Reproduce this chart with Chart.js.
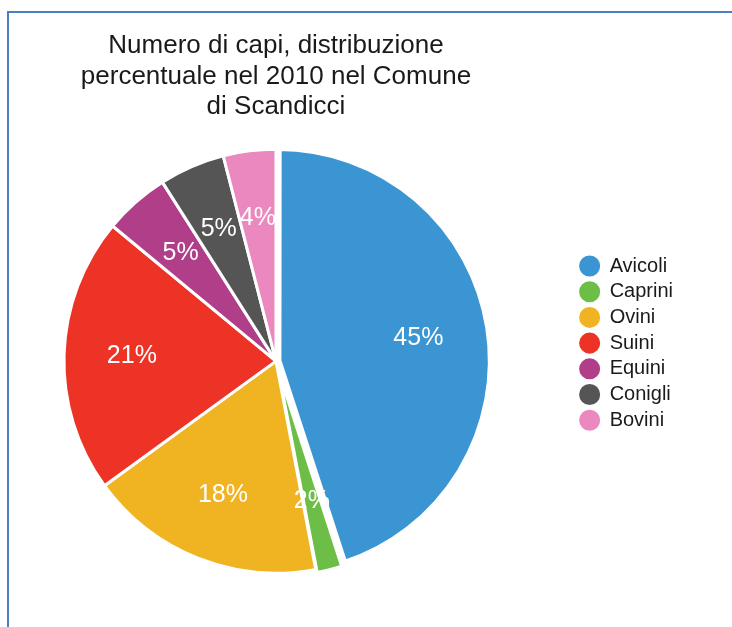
<!DOCTYPE html>
<html>
<head>
<meta charset="utf-8">
<script src="https://cdn.jsdelivr.net/npm/chart.js@4/dist/chart.umd.min.js"></script>
<style>
  html, body { margin: 0; padding: 0; background: #fff; overflow: hidden; }
  body { width: 732px; height: 627px; position: relative; }
  #frame {
    position: absolute; left: 7px; top: 11px; width: 800px; height: 700px;
    border-top: 2px solid #4a7fc4; border-left: 2px solid #4a7fc4;
    pointer-events: none;
  }
  #myChart { position: absolute; left: -22px; top: 0; }
</style>
</head>
<body>
<div id="frame"></div>
<canvas id="myChart" width="754" height="627"></canvas>
<script>
const categories = ['Avicoli', 'Caprini', 'Ovini', 'Suini', 'Equini', 'Conigli', 'Bovini'];
const shares = [45, 2, 18, 21, 5, 5, 4];
const sliceColors = ['#3b95d3', '#6cbe47', '#f0b423', '#ec3325', '#b13e88', '#555555', '#ea88bf'];

const fontFamily = '"Liberation Sans", Arial, Helvetica, sans-serif';

// percent labels inside the slices
const pctLabels = {
    id: 'pctLabels',
    afterDatasetsDraw(chart) {
        const ctx = chart.ctx;
        const meta = chart.getDatasetMeta(0);
        ctx.save();
        ctx.font = '25px ' + fontFamily;
        ctx.fillStyle = '#ffffff';
        ctx.textAlign = 'center';
        ctx.textBaseline = 'middle';
        meta.data.forEach(function(arc, i) {
            const p = arc.getProps(['x', 'y', 'startAngle', 'endAngle', 'outerRadius'], true);
            const mid = (p.startAngle + p.endAngle) / 2;
            const r = p.outerRadius * 0.68;
            ctx.fillText(shares[i] + '%', p.x + Math.cos(mid) * r, p.y + Math.sin(mid) * r);
        });
        ctx.restore();
    }
};

// legend sits a bit higher than the pie centre
const legendShift = {
    id: 'legendShift',
    afterLayout(chart) {
        chart.legend.top -= 36;
    }
};

var myChart = new Chart(
    document.getElementById('myChart'),
    {
        type: 'pie',
        data: {
            labels: categories,
            datasets: [{
                data: shares,
                backgroundColor: sliceColors,
                borderColor: '#ffffff',
                // Avicoli and Caprini pulled out a little, with a wider white gap
                borderWidth: [7, 4, 3, 3, 3, 3, 3],
                offset: [8, 8, 0, 0, 0, 0, 0]
            }]
        },
        options: {
            responsive: false,
            animation: false,
            radius: 212,
            layout: {
                padding: { top: 16, bottom: 35, left: 0, right: 49 }
            },
            plugins: {
                title: {
                    display: true,
                    fullSize: false,
                    text: ['Numero di capi, distribuzione', 'percentuale nel 2010 nel Comune', 'di Scandicci'],
                    color: '#1a1a1a',
                    font: { family: fontFamily, size: 26, weight: 'normal', lineHeight: 1.17 },
                    padding: { top: 15, bottom: 8 }
                },
                legend: {
                    position: 'right',
                    fullSize: false,
                    labels: {
                        usePointStyle: true,
                        pointStyle: 'circle',
                        boxHeight: 17,
                        padding: 5.7,
                        color: '#1a1a1a',
                        font: { family: fontFamily, size: 20 },
                        generateLabels: function(chart) {
                            const items = Chart.overrides.pie.plugins.legend.labels.generateLabels(chart);
                            items.forEach(function(item) { item.lineWidth = 3; });
                            return items;
                        }
                    }
                },
                tooltip: { enabled: false }
            }
        },
        plugins: [pctLabels, legendShift]
    }
);
</script>
</body>
</html>
